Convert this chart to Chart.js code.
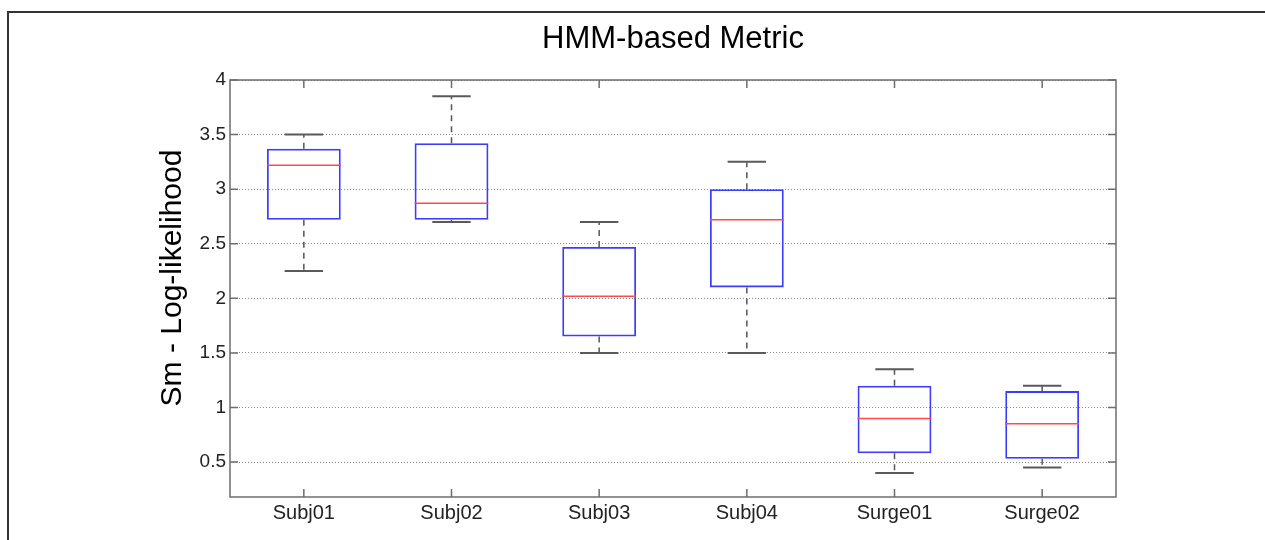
<!DOCTYPE html>
<html>
<head>
<meta charset="utf-8">
<title>HMM-based Metric</title>
<script src="https://cdn.jsdelivr.net/npm/chart.js@4/dist/chart.umd.min.js"></script>
<style>
    html, body { margin: 0; padding: 0; background: #fff; }
    #wrap { position: relative; width: 1265px; height: 540px; }
    #frame {
        position: absolute; left: 7px; top: 11px; right: 0; bottom: 0;
        border-top: 2px solid #333; border-left: 2px solid #333;
        pointer-events: none;
    }
</style>
</head>
<body>
<div id="wrap">
    <canvas id="boxChart" width="1265" height="540"></canvas>
    <div id="frame"></div>
</div>
<script>
// values
const categories = ['Subj01', 'Subj02', 'Subj03', 'Subj04', 'Surge01', 'Surge02'];
const whiskerHigh = [3.50, 3.85, 2.70, 3.25, 1.35, 1.20];
const upperQuartile = [3.37, 3.42, 2.47, 3.00, 1.20, 1.15];
const medians = [3.22, 2.87, 2.02, 2.72, 0.90, 0.85];
const lowerQuartile = [2.72, 2.72, 1.65, 2.10, 0.58, 0.53];
const whiskerLow = [2.25, 2.70, 1.50, 1.50, 0.40, 0.45];

const yLabel = 'Sm - Log-likelihood';
const FONT = "'Liberation Sans', Arial, sans-serif";

// whiskers, caps, medians, axes box and inner ticks (matlab style)
const boxplotExtras = {
    id: 'boxplotExtras',
    afterDatasetsDraw(chart) {
        const ctx = chart.ctx;
        const x = chart.scales.x;
        const y = chart.scales.y;
        const meta = chart.getDatasetMeta(0);
        const step = x.getPixelForValue(1) - x.getPixelForValue(0);
        const capHalf = step * 0.13;

        ctx.save();
        categories.forEach((c, i) => {
            const cx = x.getPixelForValue(i);
            const boxW = meta.data[i].width;

            // dashed whiskers
            ctx.strokeStyle = '#555';
            ctx.lineWidth = 1.5;
            ctx.setLineDash([6, 5]);
            ctx.beginPath();
            ctx.moveTo(cx, y.getPixelForValue(upperQuartile[i]));
            ctx.lineTo(cx, y.getPixelForValue(whiskerHigh[i]));
            ctx.moveTo(cx, y.getPixelForValue(lowerQuartile[i]));
            ctx.lineTo(cx, y.getPixelForValue(whiskerLow[i]));
            ctx.stroke();

            // caps
            ctx.setLineDash([]);
            ctx.strokeStyle = '#5a5a5a';
            ctx.lineWidth = 2;
            ctx.beginPath();
            ctx.moveTo(cx - capHalf, y.getPixelForValue(whiskerHigh[i]));
            ctx.lineTo(cx + capHalf, y.getPixelForValue(whiskerHigh[i]));
            ctx.moveTo(cx - capHalf, y.getPixelForValue(whiskerLow[i]));
            ctx.lineTo(cx + capHalf, y.getPixelForValue(whiskerLow[i]));
            ctx.stroke();

            // median
            ctx.strokeStyle = '#ff4a4a';
            ctx.lineWidth = 1.5;
            ctx.beginPath();
            ctx.moveTo(cx - boxW / 2, y.getPixelForValue(medians[i]));
            ctx.lineTo(cx + boxW / 2, y.getPixelForValue(medians[i]));
            ctx.stroke();
        });
        ctx.restore();
    },
    afterDraw(chart) {
        const ctx = chart.ctx;
        const a = chart.chartArea;
        const x = chart.scales.x;
        const y = chart.scales.y;
        const tick = 8;

        ctx.save();
        ctx.strokeStyle = '#6e6e6e';
        ctx.lineWidth = 1.5;
        ctx.strokeRect(a.left, a.top, a.right - a.left, a.bottom - a.top);

        ctx.beginPath();
        categories.forEach((c, i) => {
            const px = x.getPixelForValue(i);
            ctx.moveTo(px, a.bottom);
            ctx.lineTo(px, a.bottom - tick);
            ctx.moveTo(px, a.top);
            ctx.lineTo(px, a.top + tick);
        });
        y.ticks.forEach(t => {
            const py = y.getPixelForValue(t.value);
            ctx.moveTo(a.left, py);
            ctx.lineTo(a.left + tick, py);
            ctx.moveTo(a.right, py);
            ctx.lineTo(a.right - tick, py);
        });
        ctx.stroke();

        // y axis title
        ctx.translate(173, 278);
        ctx.rotate(-Math.PI / 2);
        ctx.fillStyle = '#000';
        ctx.font = '30px ' + FONT;
        ctx.textAlign = 'center';
        ctx.textBaseline = 'middle';
        ctx.fillText(yLabel, 0, 0);
        ctx.restore();
    }
};

const boxes = categories.map((c, i) => [lowerQuartile[i], upperQuartile[i]]);

var ctx = document.getElementById('boxChart').getContext('2d');
var boxChart = new Chart(ctx, {
    type: 'bar',
    data: {
        labels: categories,
        datasets: [{
            data: boxes,
            backgroundColor: 'rgba(0,0,0,0)',
            borderColor: 'rgb(60, 60, 255)',
            borderWidth: 1.8,
            borderSkipped: false,
            barPercentage: 0.5,
            categoryPercentage: 1.0
        }]
    },
    options: {
        responsive: false,
        animation: false,
        layout: {
            padding: { top: 0, right: 149, bottom: 0, left: 0 }
        },
        plugins: {
            legend: { display: false },
            tooltip: { enabled: false },
            title: {
                display: true,
                text: 'HMM-based Metric',
                fullSize: false,
                color: '#000',
                font: { family: FONT, size: 31, weight: 'normal' },
                padding: { top: 21, bottom: 21.8 }
            }
        },
        scales: {
            x: {
                type: 'category',
                grid: { display: false, drawTicks: false },
                border: { display: false },
                ticks: {
                    color: '#222',
                    padding: 4,
                    font: { family: FONT, size: 20 }
                },
                afterFit: function (scale) { scale.height = 43; }
            },
            y: {
                min: 0.18,
                max: 4,
                grid: { color: '#8a8a8a', lineWidth: 1, drawTicks: false },
                border: { display: false, dash: [1, 2] },
                ticks: {
                    stepSize: 0.5,
                    includeBounds: false,
                    color: '#222',
                    padding: 4,
                    font: { family: FONT, size: 19 },
                    callback: function (v) { return String(v); }
                },
                afterFit: function (scale) { scale.width = 230; }
            }
        }
    },
    plugins: [boxplotExtras]
});
</script>
</body>
</html>
